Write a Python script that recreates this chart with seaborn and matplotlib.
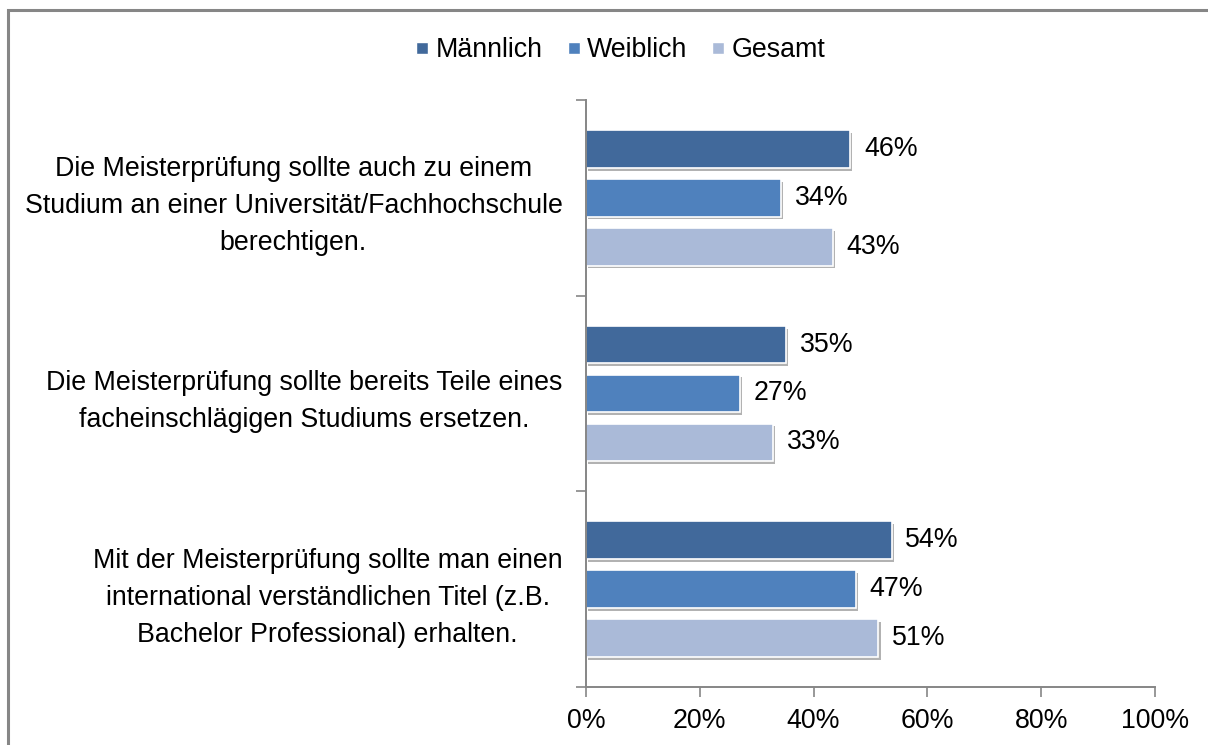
import pandas as pd
import matplotlib
matplotlib.use("Agg")
import matplotlib.pyplot as plt
import matplotlib.patheffects as pe
from matplotlib.lines import Line2D
from matplotlib.patches import Rectangle
from matplotlib.ticker import PercentFormatter
import seaborn as sns

# Data (share of respondents, %)
statements = [
    "Die Meisterprüfung sollte auch zu einem\nStudium an einer Universität/Fachhochschule\nberechtigen.",
    "Die Meisterprüfung sollte bereits Teile eines\nfacheinschlägigen Studiums ersetzen.",
    "Mit der Meisterprüfung sollte man einen\ninternational verständlichen Titel (z.B.\nBachelor Professional) erhalten.",
]
groups = ["Männlich", "Weiblich", "Gesamt"]
maennlich = [46.4, 35.2, 53.7]
weiblich = [34.3, 27.0, 47.4]
gesamt = [43.4, 32.9, 51.4]
x_ticks = [0, 20, 40, 60, 80, 100]

colors = ["#41699B", "#4F81BD", "#AABAD8"]
FS = 19.3

df = pd.DataFrame({
    "Aussage": statements * 3,
    "Gruppe": [g for g in groups for _ in statements],
    "Wert": maennlich + weiblich + gesamt,
})

sns.set_style("white")
plt.rcParams["font.family"] = ["Liberation Sans", "DejaVu Sans"]
plt.rcParams["text.color"] = "black"
plt.rcParams["xtick.labelcolor"] = "black"
plt.rcParams["ytick.labelcolor"] = "black"

fig = plt.figure(figsize=(12.08, 7.45), dpi=100)
ax = fig.add_axes([586 / 1208, 1 - 687 / 745, (1155 - 586) / 1208, (687 - 100) / 745])

sns.barplot(data=df, y="Aussage", x="Wert", hue="Gruppe", order=statements,
            hue_order=groups, palette=colors, saturation=1, orient="h", width=0.75, gap=0.23,
            edgecolor="white", linewidth=1.2, legend=False, ax=ax)

# soft drop shadow like the original office chart
shadow = [pe.SimplePatchShadow(offset=(1.5, -2), shadow_rgbFace="#555555", alpha=0.45), pe.Normal()]
for patch in ax.patches:
    patch.set_path_effects(shadow)

for cont in ax.containers:
    labels = ax.bar_label(cont, labels=[f"{v:.0f}%" for v in cont.datavalues],
                          padding=10, fontsize=FS, color="black")
    for t in labels:
        t.set_y(t.get_position()[1] + 0.015)

ax.set_xlim(0, 100)
ax.set_ylim(2.5, -0.5)
ax.set_xticks(x_ticks)
ax.xaxis.set_major_formatter(PercentFormatter(100, decimals=0))
ax.set_yticks([-0.5, 0.5, 1.5, 2.5], minor=True)
ax.set_yticks(range(len(statements)))
ax.set_yticklabels(statements, multialignment="center", linespacing=1.55)
ax.tick_params(axis="y", which="major", length=0, pad=17, labelsize=FS)
ax.tick_params(axis="y", which="minor", length=7, width=1.2, color="#868686", direction="out", left=True)
ax.tick_params(axis="x", length=7, width=1.2, color="#868686", direction="out", bottom=True,
               labelsize=FS, pad=8)
ax.set_xlabel("")
ax.set_ylabel("")

for side in ["top", "right"]:
    ax.spines[side].set_visible(False)
for side in ["left", "bottom"]:
    ax.spines[side].set_color("#868686")
    ax.spines[side].set_linewidth(1.4)

handles = [Line2D([], [], marker="s", linestyle="", markersize=9, markerfacecolor=c,
                  markeredgecolor="white") for c in colors]
fig.legend(handles, groups, loc="center", bbox_to_anchor=(0.512, 0.933), ncol=3,
           frameon=False, fontsize=FS, handletextpad=0.1, columnspacing=0.75,
           handlelength=0.8)

# outer chart frame
fig.patches.append(Rectangle((8 / 1208, -0.1), 1.2, 1.1 - 10 / 745, transform=fig.transFigure,
                             fill=False, edgecolor="#868686", linewidth=2.2))

fig.savefig("out.png", dpi=100)
